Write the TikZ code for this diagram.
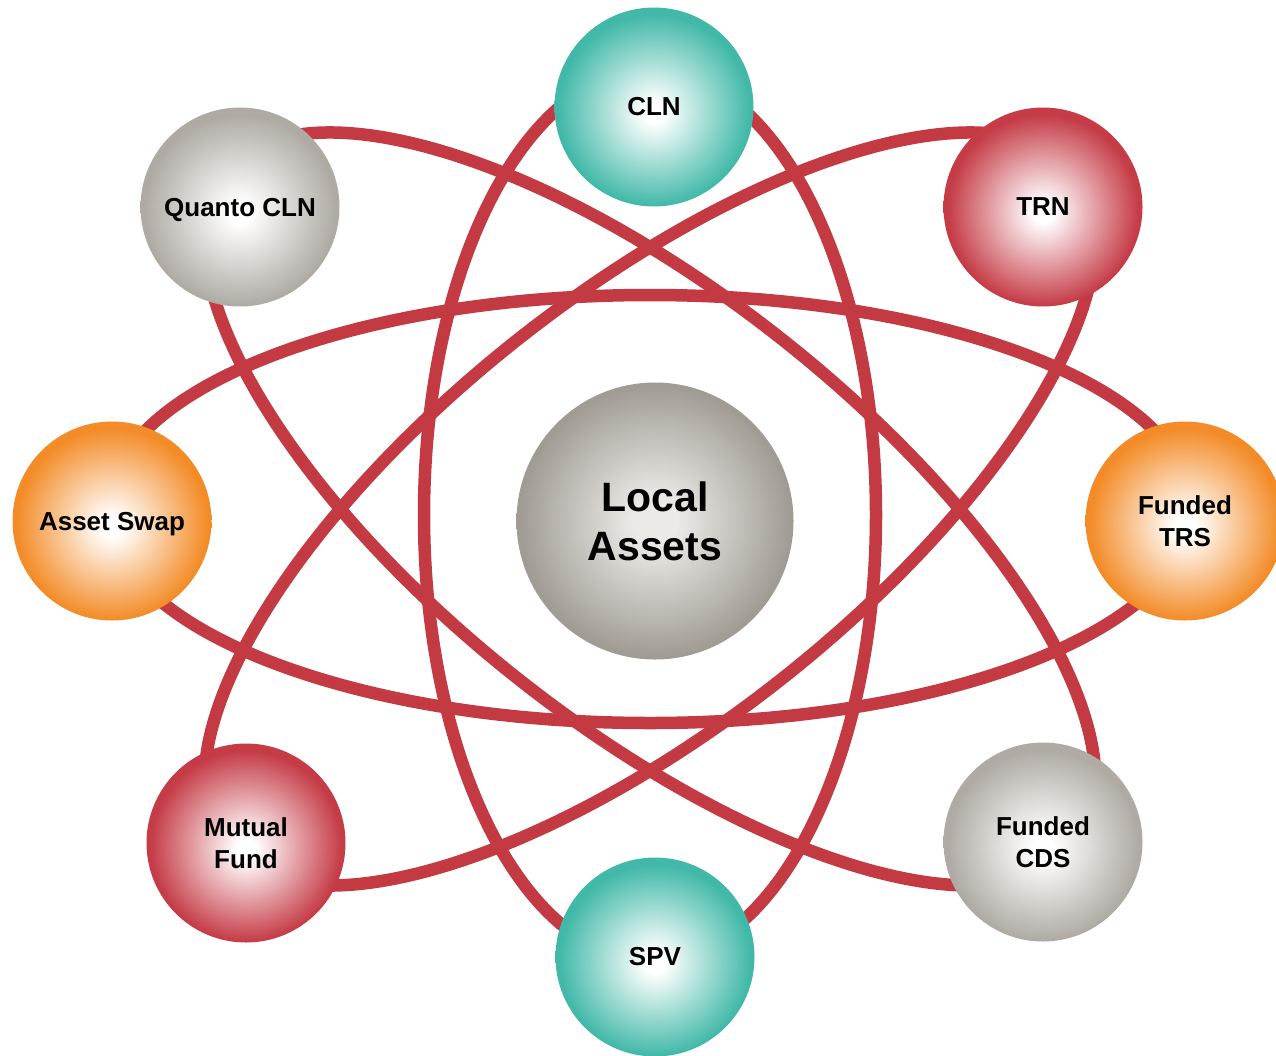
\documentclass[tikz,border=0pt]{standalone}
\usepackage{fontspec}
\setmainfont{Liberation Sans}

\definecolor{orbitred}{HTML}{C33A42}
\definecolor{ballteal}{HTML}{42B9A8}
\definecolor{ballred}{HTML}{C53C47}
\definecolor{ballorange}{HTML}{F38C28}
\definecolor{ballgray}{HTML}{AFABA4}
\definecolor{coreLight}{HTML}{ECEAE7}
\definecolor{coreDark}{HTML}{A09C94}
\colorlet{ballcolor}{ballteal}

% white core fading to the ball colour at the rim (colour set per node);
% the rim of a shaded circle sits at 25bp of the shading
\pgfdeclareradialshading[ballcolor]{orbshade}{\pgfpoint{0bp}{-1.5bp}}{%
  color(0bp)=(white); color(2.5bp)=(white); color(24bp)=(ballcolor); color(50bp)=(ballcolor)}
% soft grey sphere for the central hub
\pgfdeclareradialshading{coreshade}{\pgfpoint{0bp}{0bp}}{%
  color(0bp)=(coreLight); color(4bp)=(coreLight); color(24.5bp)=(coreDark); color(50bp)=(coreDark)}

\tikzset{
  orbit/.style={draw=orbitred, line width=12.5pt},
  orbnode/.style={circle, inner sep=0pt, minimum size=199pt,
    /utils/exec={\colorlet{ballcolor}{#1}}, shade, shading=orbshade,
    align=center, font=\bfseries\fontsize{26}{31.5}\selectfont},
  corenode/.style={circle, inner sep=0pt, minimum size=277pt, shade, shading=coreshade,
    align=center, font=\bfseries\fontsize{41}{49}\selectfont}
}

\begin{document}
\begin{tikzpicture}[x=1pt,y=-1pt]
\useasboundingbox (0,0) rectangle (1276,1055);

\coordinate (hub) at (650,509);

% the four orbits
\draw[orbit] (650,515) ellipse [x radius=226pt, y radius=445pt];
\draw[orbit, shift={(hub)}] (0,0) ellipse [x radius=542pt, y radius=214pt];
\draw[orbit, shift={(hub)}, rotate=-38.4] (0,0) ellipse [x radius=542pt, y radius=215pt];
\draw[orbit, shift={(hub)}, rotate=38.4] (0,0) ellipse [x radius=542pt, y radius=215pt];

% hub
\node[corenode] (local) at (655,521) {Local\\Assets};

% satellites
\node[orbnode=ballteal]   (cln)    at (654,107)  {CLN};
\node[orbnode=ballteal]   (spv)    at (655,957)  {SPV};
\node[orbnode=ballred]    (trn)    at (1043,207) {TRN};
\node[orbnode=ballred]    (mutual) at (246,843)  {Mutual\\Fund};
\node[orbnode=ballgray, text depth=0pt]   (quanto) at (240,207)  {Quanto CLN};
\node[orbnode=ballgray]   (fcds)   at (1043,842) {Funded\\CDS};
\node[orbnode=ballorange, text depth=0pt] (aswap)  at (112,521)  {Asset Swap};
\node[orbnode=ballorange] (ftrs)   at (1185,521) {Funded\\TRS};
\end{tikzpicture}
\end{document}
